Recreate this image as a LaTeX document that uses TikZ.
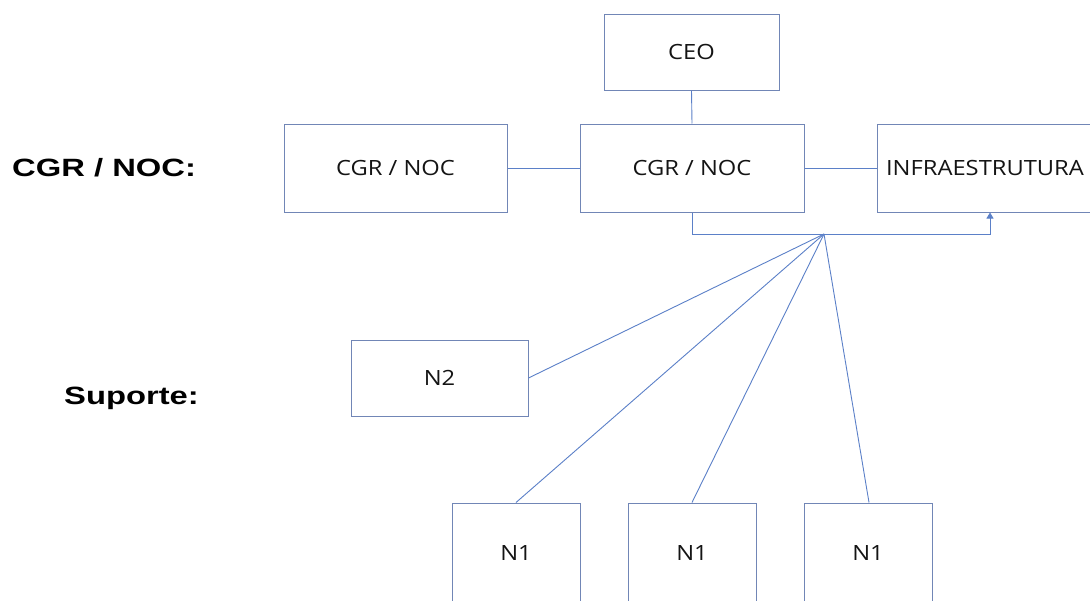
\documentclass[tikz,border=0pt]{standalone}
\usepackage{fontspec}
\usepackage{graphicx}
\setmainfont{Open Sans}
\newfontfamily\labfont{Liberation Sans}
\usetikzlibrary{arrows.meta}
\definecolor{boxc}{HTML}{7186B6}
\definecolor{linec}{HTML}{5B80C8}
\definecolor{txt}{HTML}{141414}
\newcommand\boxtxt[1]{\scalebox{1.13}[1]{#1}}
\newcommand\labtxt[1]{\scalebox{1.31}[1]{#1}}
\tikzset{
  orgbox/.style={draw=boxc, line width=1pt, fill=white, inner sep=0pt, text=txt, font=\fontsize{21}{24}\selectfont},
  conn/.style={draw=linec, line width=0.9pt},
  sidelab/.style={font=\labfont\bfseries\fontsize{25}{28}\selectfont, text=black, inner sep=0pt, anchor=west}
}
\begin{document}
\begin{tikzpicture}[x=1pt,y=-1pt]
\useasboundingbox (0,0) rectangle (1090,600);
\clip (0,0) rectangle (1090,600);
\fill[white] (0,0) rectangle (1090,600);
\node[orgbox, minimum width=175pt, minimum height=76pt] (ceo) at (691.5,52) {\boxtxt{CEO}};
\node[orgbox, minimum width=223pt, minimum height=88pt] (cgrl) at (395.5,168) {\boxtxt{CGR / NOC}};
\node[orgbox, minimum width=224pt, minimum height=88pt] (cgrc) at (692,168) {\boxtxt{CGR / NOC}};
\node[orgbox, minimum width=216pt, minimum height=88pt] (infra) at (985,168) {\boxtxt{INFRAESTRUTURA}};
\node[orgbox, minimum width=177pt, minimum height=76pt] (n2) at (439.5,378) {\boxtxt{N2}};
\node[orgbox, minimum width=128pt, minimum height=100pt] (n1a) at (516,553) {\boxtxt{N1}};
\node[orgbox, minimum width=128pt, minimum height=100pt] (n1b) at (692,553) {\boxtxt{N1}};
\node[orgbox, minimum width=128pt, minimum height=100pt] (n1c) at (868,553) {\boxtxt{N1}};
\node[sidelab] (lab1) at (12,168) {\labtxt{CGR / NOC:}};
\node[sidelab] (lab2) at (64,398) {\labtxt{Suporte:}};
\coordinate (hub) at (824,234);
\coordinate (bl) at (692,234);
\coordinate (br) at (990,234);
\draw[conn] (ceo.south) -- (cgrc.north);
\draw[conn] (cgrl.east) -- (cgrc.west);
\draw[conn] (cgrc.east) -- (infra.west);
\draw[conn, -{Triangle[length=6pt,width=7pt]}] (cgrc.south -| bl) -- (bl) -- (br) -- (infra.south -| br);
\draw[conn] (hub) -- (n2.east);
\draw[conn] (hub) -- (n1a.north);
\draw[conn] (hub) -- (n1b.north);
\draw[conn] (hub) -- ([xshift=1pt]n1c.north);
\end{tikzpicture}
\end{document}
